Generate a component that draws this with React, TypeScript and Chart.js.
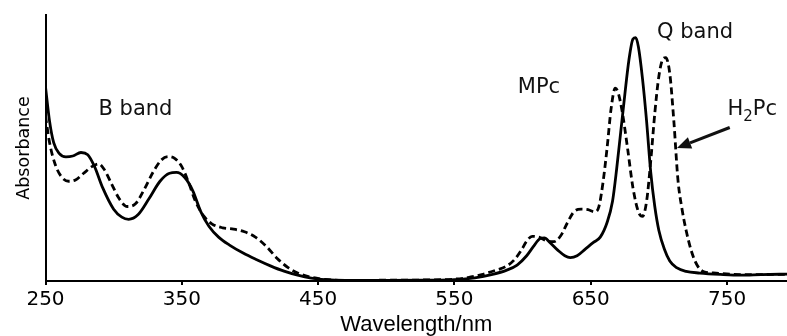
import React, { useEffect, useRef } from "react";
import { Chart, registerables } from "chart.js";

Chart.register(...registerables);

// ---- data ----
const mpcWavelength = [
  250, 253, 256, 260, 265, 270, 276, 281, 286, 292, 300, 306, 311, 318, 326, 334, 341, 346,
  352, 358, 364, 370, 377, 385, 395, 405, 415, 425, 435, 445, 455, 470, 500, 530, 550, 565,
  578, 588, 596, 603, 608, 613, 616, 620, 626, 631, 635, 640, 646, 652, 657, 662, 666, 669,
  672, 675, 678, 681, 683, 685, 688, 691, 694, 697, 700, 704, 708, 713, 720, 730, 745, 760,
  775, 795,
];
const mpcAbsorbance = [
  0.73, 0.6, 0.52, 0.48, 0.467, 0.47, 0.483, 0.475, 0.43, 0.35, 0.27, 0.24, 0.232, 0.25, 0.31,
  0.375, 0.405, 0.408, 0.39, 0.34, 0.26, 0.205, 0.165, 0.135, 0.105, 0.08, 0.057, 0.037, 0.022,
  0.011, 0.005, 0.002, 0.002, 0.003, 0.005, 0.012, 0.025, 0.04, 0.06, 0.095, 0.13, 0.16, 0.162,
  0.145, 0.115, 0.095, 0.088, 0.095, 0.12, 0.145, 0.165, 0.22, 0.3, 0.42, 0.56, 0.7, 0.83, 0.91,
  0.915, 0.88, 0.76, 0.6, 0.41, 0.28, 0.19, 0.12, 0.075, 0.05, 0.036, 0.03, 0.025, 0.022, 0.024,
  0.026,
];
const h2pcWavelength = [
  250, 253, 257, 262, 267, 272, 278, 284, 289, 293, 298, 304, 310, 316, 322, 329, 335, 340,
  345, 350, 355, 360, 366, 372, 380, 388, 396, 404, 412, 420, 428, 436, 445, 455, 470, 500,
  530, 550, 560, 570, 580, 588, 594, 599, 603, 607, 612, 618, 623, 628, 633, 638, 643, 648,
  653, 656, 659, 662, 665, 668, 670, 673, 677, 681, 685, 688, 691, 694, 697, 700, 703, 705,
  708, 711, 714, 717, 720, 724, 728, 733, 740, 760, 795,
];
const h2pcAbsorbance = [
  0.62, 0.52, 0.44, 0.39, 0.375, 0.38, 0.405, 0.43, 0.44, 0.42, 0.37, 0.31, 0.28, 0.29, 0.34,
  0.41, 0.455, 0.468, 0.46, 0.43, 0.37, 0.3, 0.245, 0.215, 0.2, 0.195, 0.185, 0.165, 0.13,
  0.085, 0.05, 0.028, 0.014, 0.006, 0.002, 0.003, 0.004, 0.007, 0.013, 0.024, 0.04, 0.055,
  0.08, 0.115, 0.15, 0.168, 0.165, 0.15, 0.148, 0.17, 0.22, 0.262, 0.27, 0.268, 0.26, 0.28,
  0.37, 0.5, 0.65, 0.725, 0.71, 0.64, 0.5, 0.35, 0.26, 0.243, 0.3, 0.45, 0.63, 0.77, 0.835,
  0.84, 0.78, 0.6, 0.38, 0.27, 0.19, 0.11, 0.06, 0.035, 0.03, 0.024, 0.025,
];
const xTickValues = [250, 350, 450, 550, 650, 750];
const seriesNames = ["MPc", "H2Pc"];
const xAxisTitle = "Wavelength/nm";
const yAxisTitle = "Absorbance";
const bandLabels = ["B band", "MPc", "Q band"];
const bandLabelAnchors = [
  [316, 0.644],
  [612, 0.727],
  [726.5, 0.933],
];
const h2pcLabelAnchor = [750.3, 0.644];
const arrowFrom = [752, 0.577];
const arrowTo = [713.3, 0.5];

const LABEL_FONT = '"DejaVu Sans", sans-serif';

const annotationPlugin = {
  id: "bandAnnotations",
  afterDatasetsDraw(chart: any) {
    const { ctx } = chart;
    const xs = chart.scales.x;
    const ys = chart.scales.y;
    ctx.save();
    ctx.fillStyle = "#111";
    ctx.textBaseline = "middle";
    ctx.textAlign = "center";
    ctx.font = `21px ${LABEL_FONT}`;
    bandLabels.forEach((t, i) => {
      const [vx, vy] = bandLabelAnchors[i];
      ctx.fillText(t, xs.getPixelForValue(vx), ys.getPixelForValue(vy));
    });

    // H2Pc with subscript
    let px = xs.getPixelForValue(h2pcLabelAnchor[0]);
    const py = ys.getPixelForValue(h2pcLabelAnchor[1]);
    ctx.textAlign = "left";
    ctx.font = `21px ${LABEL_FONT}`;
    ctx.fillText("H", px, py);
    px += ctx.measureText("H").width;
    ctx.font = `15px ${LABEL_FONT}`;
    ctx.fillText("2", px, py + 7);
    px += ctx.measureText("2").width;
    ctx.font = `21px ${LABEL_FONT}`;
    ctx.fillText("Pc", px, py);

    // arrow
    const x1 = xs.getPixelForValue(arrowFrom[0]);
    const y1 = ys.getPixelForValue(arrowFrom[1]);
    const x2 = xs.getPixelForValue(arrowTo[0]);
    const y2 = ys.getPixelForValue(arrowTo[1]);
    const ang = Math.atan2(y2 - y1, x2 - x1);
    const head = 14;
    const hw = 6;
    const bx = x2 - head * Math.cos(ang);
    const by = y2 - head * Math.sin(ang);
    ctx.strokeStyle = "#111";
    ctx.lineWidth = 3;
    ctx.beginPath();
    ctx.moveTo(x1, y1);
    ctx.lineTo(bx, by);
    ctx.stroke();
    ctx.beginPath();
    ctx.moveTo(x2, y2);
    ctx.lineTo(bx + hw * Math.sin(ang), by - hw * Math.cos(ang));
    ctx.lineTo(bx - hw * Math.sin(ang), by + hw * Math.cos(ang));
    ctx.closePath();
    ctx.fill();
    ctx.restore();
  },
};

export default function App() {
  const canvasRef = useRef<HTMLCanvasElement | null>(null);

  useEffect(() => {
    if (!canvasRef.current) return;
    const mpcData = mpcWavelength.map((w, i) => ({ x: w, y: mpcAbsorbance[i] }));
    const h2pcData = h2pcWavelength.map((w, i) => ({ x: w, y: h2pcAbsorbance[i] }));

    const chart = new Chart(canvasRef.current, {
      type: "line",
      data: {
        datasets: [
          {
            label: seriesNames[0],
            data: mpcData,
            borderColor: "#000",
            borderWidth: 2.8,
            pointRadius: 0,
            cubicInterpolationMode: "monotone",
            fill: false,
          },
          {
            label: seriesNames[1],
            data: h2pcData,
            borderColor: "#000",
            borderWidth: 2.8,
            borderDash: [7, 4],
            pointRadius: 0,
            cubicInterpolationMode: "monotone",
            fill: false,
          },
        ],
      },
      options: {
        responsive: false,
        animation: false,
        events: [],
        layout: { padding: { top: 15, right: 0, bottom: 0, left: 0 } },
        plugins: {
          legend: { display: false },
          tooltip: { enabled: false },
        },
        scales: {
          x: {
            type: "linear",
            min: 250,
            max: 794,
            afterBuildTicks: (scale: any) => {
              scale.ticks = xTickValues.map((v) => ({ value: v }));
            },
            grid: {
              display: true,
              drawOnChartArea: false,
              drawTicks: true,
              tickLength: 4,
              color: "#000",
              lineWidth: 2,
            },
            border: { display: true, color: "#000", width: 2 },
            ticks: {
              color: "#000",
              padding: 4,
              maxRotation: 0,
              autoSkip: false,
              font: { family: LABEL_FONT, size: 20, lineHeight: 1.05 },
            },
            title: {
              display: true,
              text: xAxisTitle,
              color: "#000",
              font: { family: '"Liberation Sans", Arial, sans-serif', size: 22, lineHeight: 1 },
              padding: { top: 0, bottom: 0 },
            },
          },
          y: {
            type: "linear",
            min: 0,
            max: 1,
            grid: { display: false, drawTicks: false },
            border: { display: true, color: "#000", width: 2 },
            ticks: { display: false },
            title: {
              display: true,
              text: yAxisTitle,
              color: "#000",
              font: { family: LABEL_FONT, size: 17.5, lineHeight: 1 },
              padding: { top: 15.25, bottom: 12.75 },
            },
          },
        },
      },
      plugins: [annotationPlugin],
    } as any);

    return () => chart.destroy();
  }, []);

  return (
    <div style={{ position: "absolute", left: 0, top: 0, width: 787, height: 336, background: "#fff" }}>
      <canvas ref={canvasRef} width={787} height={336} style={{ display: "block" }} />
    </div>
  );
}
